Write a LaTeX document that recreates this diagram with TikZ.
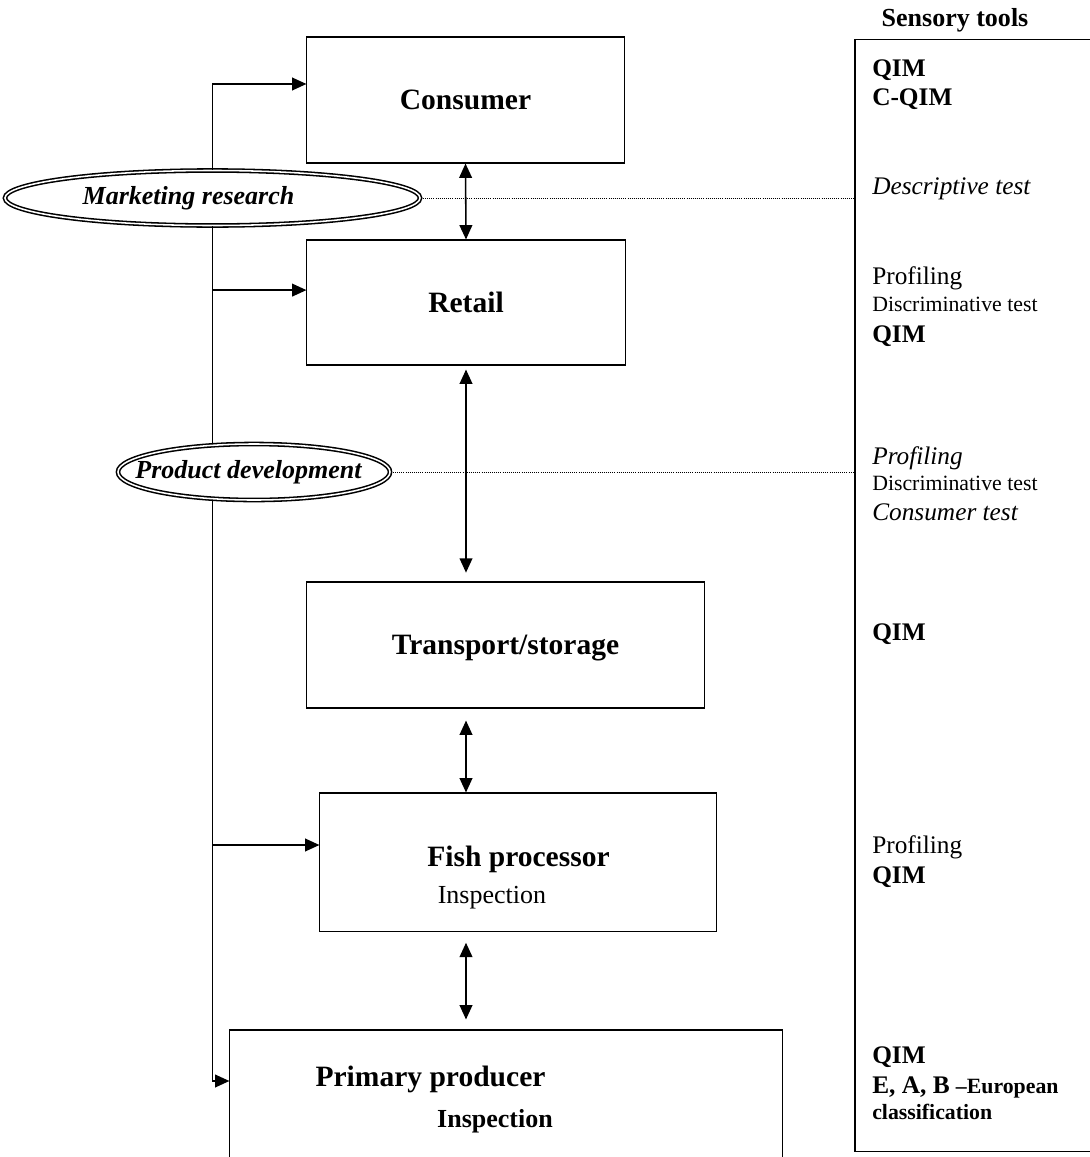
\documentclass[tikz,border=0pt]{standalone}
\usepackage{fontspec}
\setmainfont{Liberation Serif}
\usetikzlibrary{arrows.meta,shapes.geometric}

\newcommand{\stagefont}{\fontsize{21}{25}\selectfont\bfseries}
\newcommand{\ovalfont}{\fontsize{18.5}{22}\selectfont\bfseries\itshape}
\newcommand{\toolfont}{\fontsize{18}{21}\selectfont}
\newcommand{\toolsmall}{\fontsize{15.5}{18}\selectfont}

\tikzset{
  stage/.style={draw, line width=0.75pt, font=\stagefont, inner sep=0pt, text depth=0pt},
  oval/.style={ellipse, draw, double, line width=1.1pt, double distance=1.1pt, fill=white, inner sep=0pt},
  link/.style={line width=1.1pt, -{Triangle[length=0.36cm,width=0.32cm]}},
  twoway/.style={line width=1.1pt, {Triangle[length=0.36cm,width=0.32cm]}-{Triangle[length=0.36cm,width=0.32cm]}},
  guide/.style={densely dotted, line width=0.5pt},
  tool/.style={anchor=base west, inner sep=0pt, font=\toolfont},
}

\begin{document}
\begin{tikzpicture}[x=0.025cm, y=-0.025cm]
            \useasboundingbox (0,0) rectangle (1090,1157);
            \clip (0,0) rectangle (1090,1157);

            % chain of stages
            \node[stage, minimum width=7.925cm, minimum height=3.15cm]  (consumer)  at (465.5, 100.0) {Consumer};
            \node[stage, minimum width=7.95cm,  minimum height=3.125cm] (retail)    at (466.0, 302.5) {Retail};
            \node[stage, minimum width=9.925cm, minimum height=3.15cm]  (transport) at (505.5, 645.0) {Transport/storage};
            \node[stage, minimum width=9.9cm,   minimum height=3.45cm]  (fish)      at (518.0, 862.0) {};
            \node[stage, minimum width=13.8cm,  minimum height=4.25cm]  (primary)   at (506.0,1115.0) {};
            \node[anchor=base, inner sep=0pt, font=\stagefont] (fishname) at (518.5, 866) {Fish processor};
            \node[anchor=base, inner sep=0pt, font=\fontsize{18.5}{22}\selectfont] (fishinsp) at (492.0, 903) {Inspection};
            \node[anchor=base, inner sep=0pt, font=\stagefont] (primname) at (430.5,1086) {Primary producer};
            \node[anchor=base, inner sep=0pt, font=\fontsize{18.5}{22}\selectfont\bfseries] (priminsp) at (495.0,1127) {Inspection};

            % sensory tools column
            \node[draw, line width=0.8pt, minimum width=6.625cm, minimum height=27.775cm] (sensory) at (987.5, 595.5) {};
            \node[anchor=base, inner sep=0pt, font=\fontsize{18.5}{22}\selectfont\bfseries] (head) at (955, 26) {Sensory tools};

            \node[tool, font=\toolfont\bfseries] (c1) at (872,  76) {QIM};
            \node[tool, font=\toolfont\bfseries] (c2) at (872, 105) {C-QIM};
            \node[tool, font=\toolfont\itshape]  (c3) at (872, 194) {Descriptive test};
            \node[tool]                          (r1) at (872, 284) {Profiling};
            \node[tool, font=\toolsmall]         (r2) at (872, 311) {Discriminative test};
            \node[tool, font=\toolfont\bfseries] (r3) at (872, 342) {QIM};
            \node[tool, font=\toolfont\itshape]  (d1) at (872, 464) {Profiling};
            \node[tool, font=\toolsmall]         (d2) at (872, 490) {Discriminative test};
            \node[tool, font=\toolfont\itshape]  (d3) at (872, 520) {Consumer test};
            \node[tool, font=\toolfont\bfseries] (t1) at (872, 640) {QIM};
            \node[tool]                          (f1) at (872, 853) {Profiling};
            \node[tool, font=\toolfont\bfseries] (f2) at (872, 883) {QIM};
            \node[tool, font=\toolfont\bfseries] (p1) at (872,1063) {QIM};
            \node[tool, font=\toolfont\bfseries] (p2) at (872,1093) {E, A, B {\toolsmall\textendash European}};
            \node[tool, font=\toolsmall\bfseries] (p3) at (872,1119) {classification};

            % marketing research feeds every stage
            \node[oval, minimum width=10.375cm, minimum height=1.375cm] (market) at (212.5, 198) {};
            \node[font=\ovalfont, inner sep=0pt] (marketname) at (188.5, 198) {Marketing research};

            \coordinate (consIn) at ([yshift=0.4cm]consumer.west);
            \coordinate (retIn)  at ([yshift=0.31cm]retail.west);
            \coordinate (fishIn) at ([yshift=0.425cm]fish.west);
            \coordinate (primIn) at ([yshift=0.85cm]primary.west);

            \draw[link] (market.north) |- (consIn);
            \draw[link] (market.south) |- (primIn);
            \draw[link] (retIn -| market.south) -- (retIn);
            \draw[link] (fishIn -| market.south) -- (fishIn);

            \node[oval, minimum width=6.8cm, minimum height=1.4cm] (product) at (254, 472) {};
            \node[font=\ovalfont, inner sep=0pt] (productname) at (248.5, 472) {Product development};

            % links to the tools
            \draw[guide] (market.east)  -- (market.east -| sensory.west);
            \draw[guide] (product.east) -- (product.east -| sensory.west);

            % flow along the chain
            \draw[twoway] (consumer.south) -- (retail.north);
            \draw[twoway, shorten <=0.1cm, shorten >=0.22cm] (retail.south) -- (transport.north -| retail.south);
            \draw[twoway, shorten <=0.3cm] (transport.south -| retail.south) -- (fish.north -| retail.south);
            \draw[twoway, shorten <=0.28cm, shorten >=0.25cm] (fish.south -| retail.south) -- (primary.north -| retail.south);
\end{tikzpicture}
\end{document}
